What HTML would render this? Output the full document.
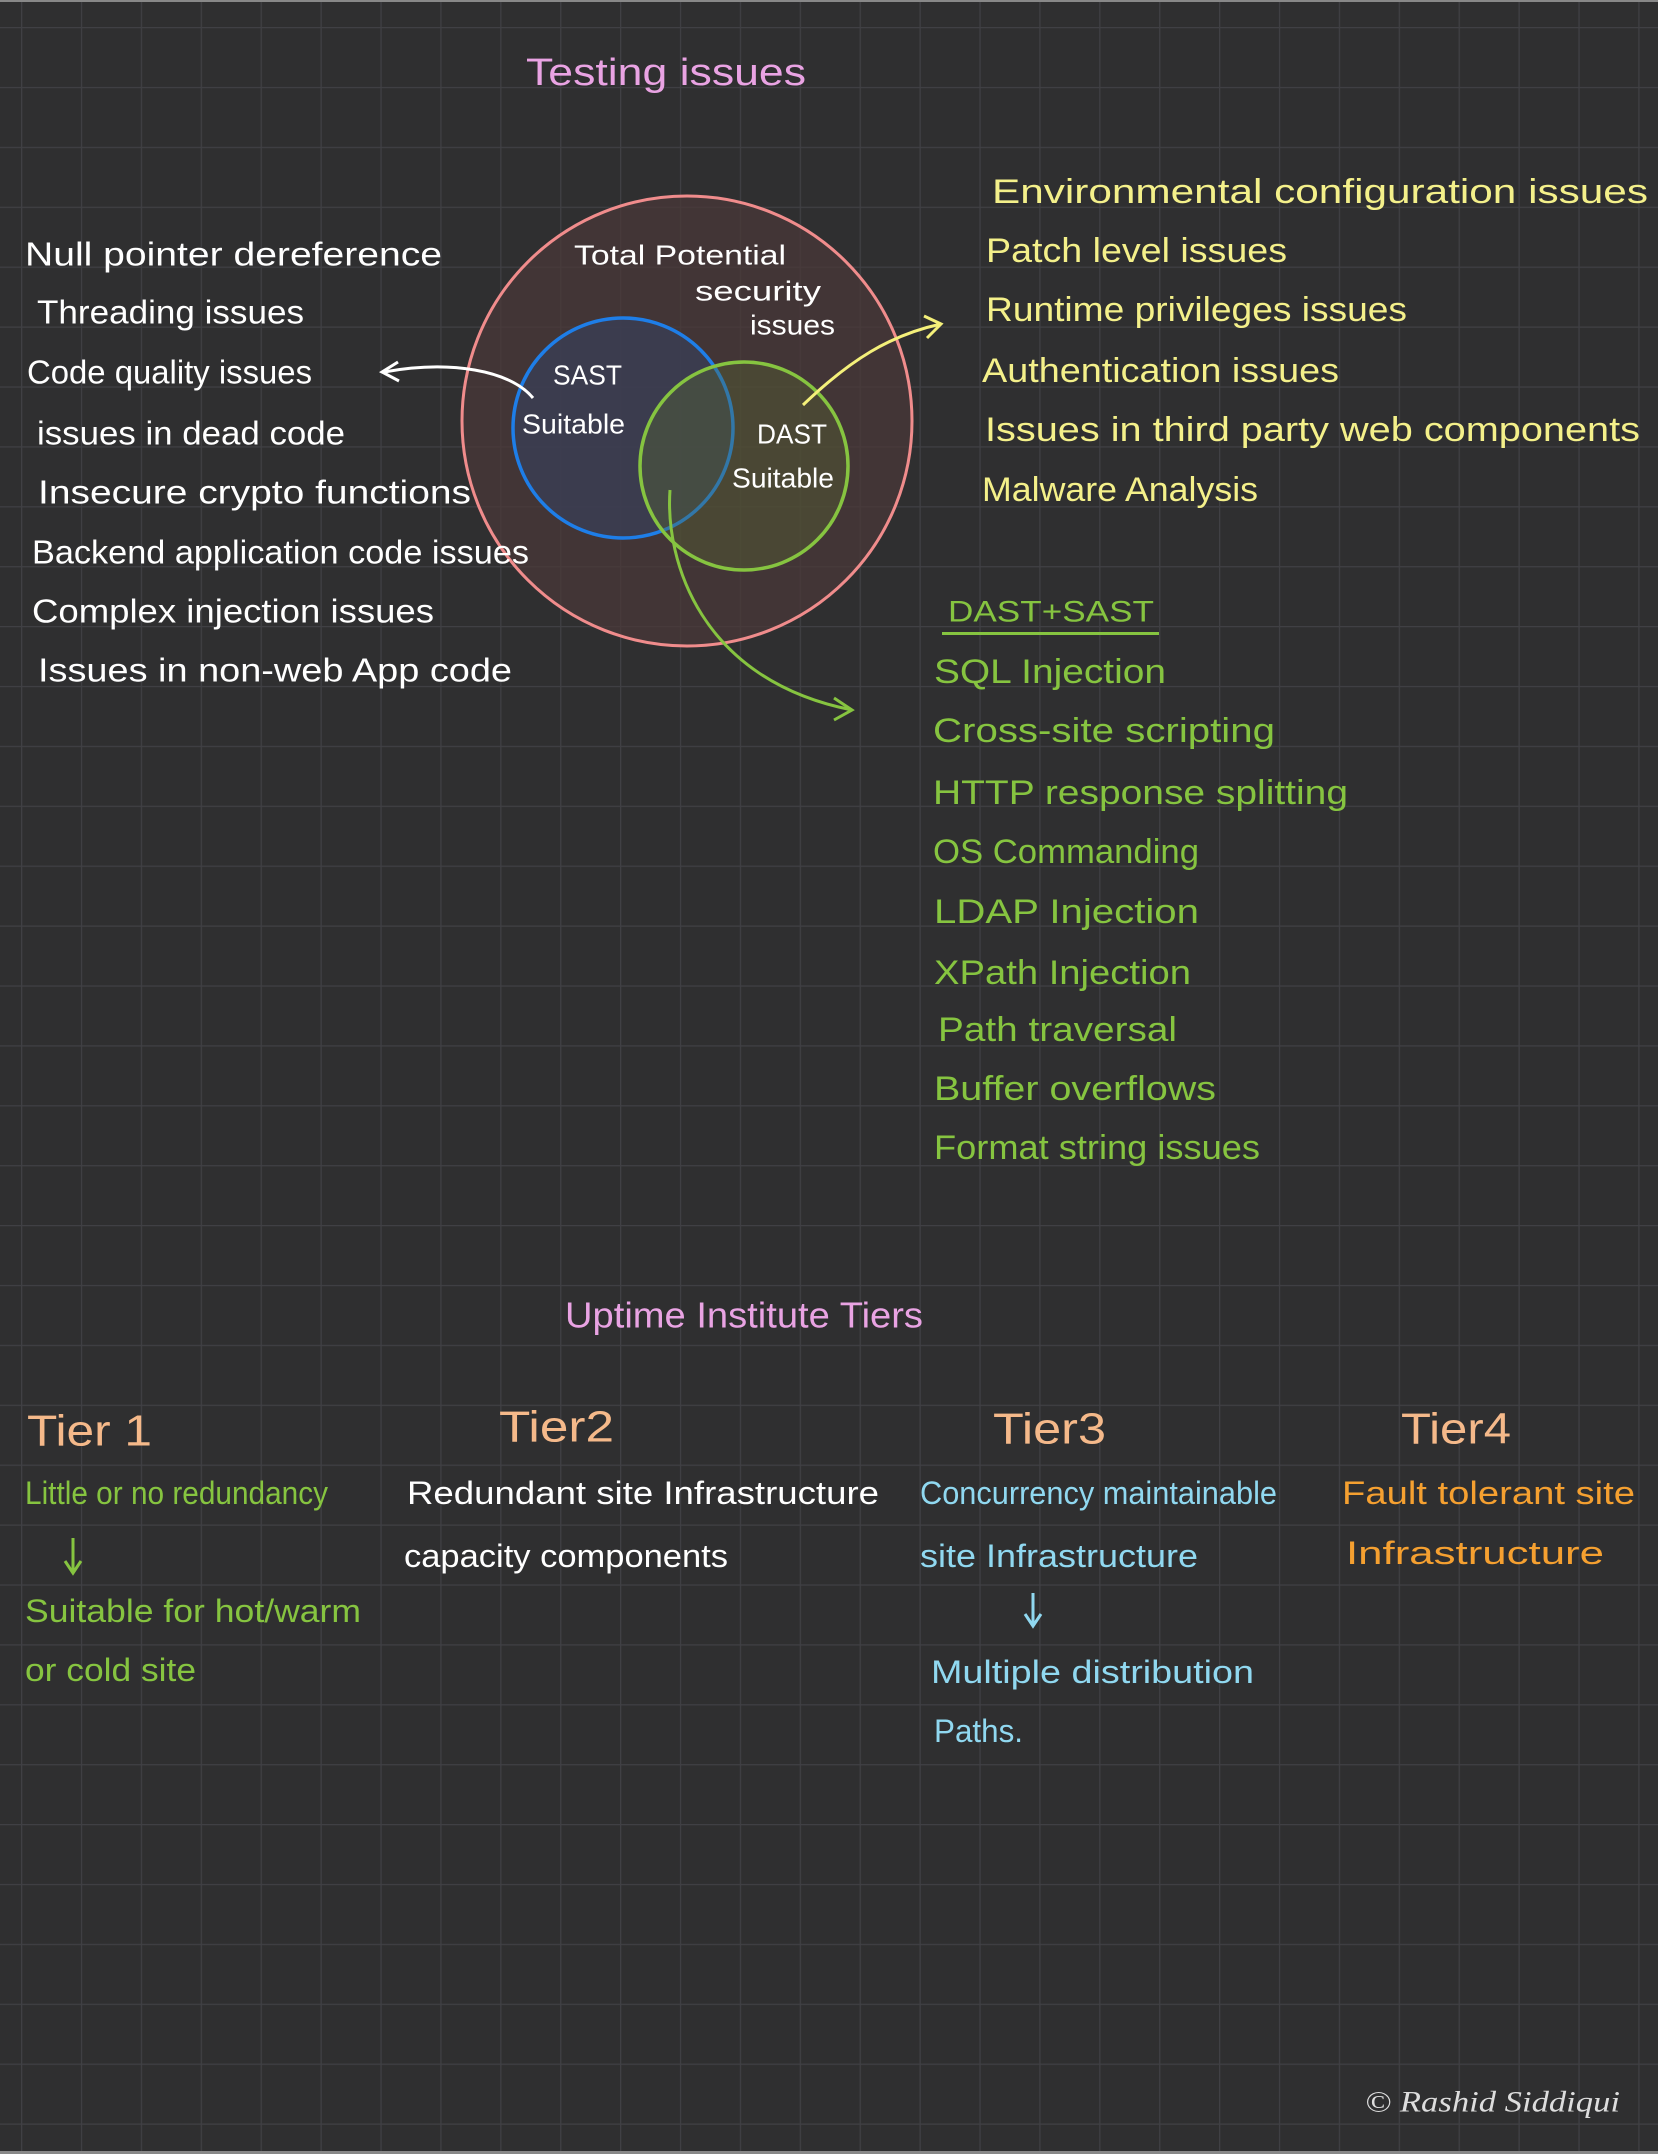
<!DOCTYPE html>
<html><head><meta charset="utf-8"><style>
html,body{margin:0;padding:0;background:#2f2f30;}
svg{display:block}
text{font-family:"Liberation Sans",sans-serif;dominant-baseline:central;}
</style></head><body>
<svg width="1658" height="2154" viewBox="0 0 1658 2154" xmlns="http://www.w3.org/2000/svg">
<defs>
<pattern id="g" x="21" y="27" width="59.9" height="59.9" patternUnits="userSpaceOnUse">
<path d="M0 0H59.9M0 0V59.9" stroke="#404044" stroke-width="2.5" fill="none"/>
</pattern>
</defs>
<rect width="1658" height="2154" fill="#2f2f30"/>
<rect width="1658" height="2154" fill="url(#g)"/>
<rect x="0" y="0" width="1658" height="2" fill="#888"/>
<rect x="0" y="2151" width="1658" height="3" fill="#888"/>

<!-- circles -->
<circle cx="687" cy="421" r="225" fill="#4a3838" fill-opacity="0.75" stroke="#f08c8c" stroke-width="3"/>
<circle cx="623" cy="428" r="110" fill="#3a3f55" fill-opacity="0.8" stroke="#1e7ee8" stroke-width="3.5"/>
<circle cx="744" cy="466" r="104" fill="#5a6a30" fill-opacity="0.35" stroke="#86c440" stroke-width="3.5"/>

<!-- connectors -->
<path d="M533 398 C 510 370, 450 360, 384 372" stroke="#fff" stroke-width="3" fill="none"/>
<path d="M398 362 L382 372 L399 381" stroke="#fff" stroke-width="3" fill="none"/>
<path d="M803 405 C 850 360, 890 335, 941 324" stroke="#f4f07a" stroke-width="3" fill="none"/>
<path d="M924 316 L941 324 L927 338" stroke="#f4f07a" stroke-width="3" fill="none"/>
<path d="M670 490 C 665 560, 700 680, 852 710" stroke="#86c440" stroke-width="3" fill="none"/>
<path d="M834 698 L852 710 L834 720" stroke="#86c440" stroke-width="3" fill="none"/>

<!-- title -->
<text x="526" y="73" font-size="38" fill="#e9a3e3" textLength="280" lengthAdjust="spacingAndGlyphs">Testing issues</text>

<!-- circle labels -->
<g fill="#fff" font-size="28">
<text x="574" y="255" textLength="212" lengthAdjust="spacingAndGlyphs">Total Potential</text>
<text x="695" y="291" textLength="126" lengthAdjust="spacingAndGlyphs">security</text>
<text x="750" y="325" textLength="85" lengthAdjust="spacingAndGlyphs">issues</text>
<text x="553" y="375" textLength="69" lengthAdjust="spacingAndGlyphs">SAST</text>
<text x="522" y="424" textLength="103" lengthAdjust="spacingAndGlyphs">Suitable</text>
<text x="757" y="434" textLength="70" lengthAdjust="spacingAndGlyphs">DAST</text>
<text x="732" y="478" textLength="102" lengthAdjust="spacingAndGlyphs">Suitable</text>
</g>

<!-- left list -->
<g fill="#fff" font-size="33">
<text x="25" y="254" textLength="417" lengthAdjust="spacingAndGlyphs">Null pointer dereference</text>
<text x="37" y="312" textLength="267" lengthAdjust="spacingAndGlyphs">Threading issues</text>
<text x="27" y="372" textLength="285" lengthAdjust="spacingAndGlyphs">Code quality issues</text>
<text x="37" y="433" textLength="308" lengthAdjust="spacingAndGlyphs">issues in dead code</text>
<text x="38" y="492" textLength="433" lengthAdjust="spacingAndGlyphs">Insecure crypto functions</text>
<text x="32" y="552" textLength="497" lengthAdjust="spacingAndGlyphs">Backend application code issues</text>
<text x="32" y="611" textLength="402" lengthAdjust="spacingAndGlyphs">Complex injection issues</text>
<text x="38" y="670" textLength="474" lengthAdjust="spacingAndGlyphs">Issues in non-web App code</text>
</g>

<!-- yellow list -->
<g fill="#f4f08a" font-size="34">
<text x="992" y="192" textLength="656" lengthAdjust="spacingAndGlyphs">Environmental configuration issues</text>
<text x="986" y="251" textLength="301" lengthAdjust="spacingAndGlyphs">Patch level issues</text>
<text x="986" y="310" textLength="421" lengthAdjust="spacingAndGlyphs">Runtime privileges issues</text>
<text x="982" y="371" textLength="357" lengthAdjust="spacingAndGlyphs">Authentication issues</text>
<text x="985" y="430" textLength="655" lengthAdjust="spacingAndGlyphs">Issues in third party web components</text>
<text x="982" y="490" textLength="276" lengthAdjust="spacingAndGlyphs">Malware Analysis</text>
</g>

<!-- green list -->
<g fill="#86c440" font-size="34">
<text x="948" y="612" font-size="30" textLength="206" lengthAdjust="spacingAndGlyphs">DAST+SAST</text>
<rect x="942" y="632" width="217" height="3"/>
<text x="934" y="672" textLength="232" lengthAdjust="spacingAndGlyphs">SQL Injection</text>
<text x="933" y="731" textLength="342" lengthAdjust="spacingAndGlyphs">Cross-site scripting</text>
<text x="933" y="793" textLength="415" lengthAdjust="spacingAndGlyphs">HTTP response splitting</text>
<text x="933" y="852" textLength="266" lengthAdjust="spacingAndGlyphs">OS Commanding</text>
<text x="934" y="912" textLength="265" lengthAdjust="spacingAndGlyphs">LDAP Injection</text>
<text x="934" y="973" textLength="257" lengthAdjust="spacingAndGlyphs">XPath Injection</text>
<text x="938" y="1030" textLength="239" lengthAdjust="spacingAndGlyphs">Path traversal</text>
<text x="934" y="1089" textLength="282" lengthAdjust="spacingAndGlyphs">Buffer overflows</text>
<text x="934" y="1148" textLength="326" lengthAdjust="spacingAndGlyphs">Format string issues</text>
</g>

<!-- Uptime -->
<text x="565" y="1315" font-size="36" fill="#e9a3e3" textLength="358" lengthAdjust="spacingAndGlyphs">Uptime Institute Tiers</text>

<g fill="#f5b98a" font-size="44">
<text x="27" y="1431" textLength="125" lengthAdjust="spacingAndGlyphs">Tier 1</text>
<text x="499" y="1427" textLength="115" lengthAdjust="spacingAndGlyphs">Tier2</text>
<text x="993" y="1429" textLength="113" lengthAdjust="spacingAndGlyphs">Tier3</text>
<text x="1401" y="1429" textLength="110" lengthAdjust="spacingAndGlyphs">Tier4</text>
</g>

<g font-size="32">
<text x="25" y="1493" fill="#86c440" textLength="303" lengthAdjust="spacingAndGlyphs">Little or no redundancy</text>
<text x="25" y="1611" fill="#86c440" textLength="336" lengthAdjust="spacingAndGlyphs">Suitable for hot/warm</text>
<text x="25" y="1670" fill="#86c440" textLength="171" lengthAdjust="spacingAndGlyphs">or cold site</text>
<text x="407" y="1493" fill="#fff" textLength="472" lengthAdjust="spacingAndGlyphs">Redundant site Infrastructure</text>
<text x="404" y="1556" fill="#fff" textLength="324" lengthAdjust="spacingAndGlyphs">capacity components</text>
<text x="920" y="1493" fill="#90d8f0" textLength="357" lengthAdjust="spacingAndGlyphs">Concurrency maintainable</text>
<text x="920" y="1556" fill="#90d8f0" textLength="278" lengthAdjust="spacingAndGlyphs">site Infrastructure</text>
<text x="931" y="1672" fill="#90d8f0" textLength="323" lengthAdjust="spacingAndGlyphs">Multiple distribution</text>
<text x="934" y="1731" fill="#90d8f0" textLength="89" lengthAdjust="spacingAndGlyphs">Paths.</text>
<text x="1342" y="1493" fill="#f5a030" textLength="293" lengthAdjust="spacingAndGlyphs">Fault tolerant site</text>
<text x="1346" y="1553" fill="#f5a030" textLength="258" lengthAdjust="spacingAndGlyphs">Infrastructure</text>
</g>

<!-- small arrows -->
<path d="M73 1538 V1572 M65 1561 L73 1573 L81 1561" stroke="#86c440" stroke-width="3" fill="none"/>
<path d="M1033 1593 V1625 M1025 1614 L1033 1626 L1041 1614" stroke="#90d8f0" stroke-width="3" fill="none"/>

<text x="1365" y="2102" font-size="30" fill="#ddd" font-family="Liberation Serif" font-style="italic" style="font-family:'Liberation Serif',serif" textLength="255" lengthAdjust="spacingAndGlyphs">© Rashid Siddiqui</text>
</svg>
</body></html>
